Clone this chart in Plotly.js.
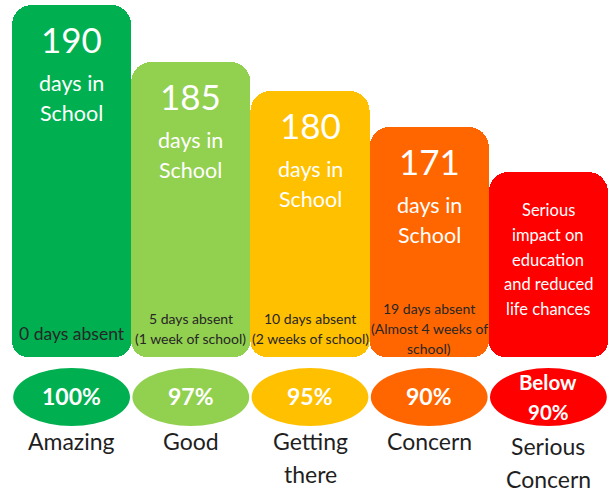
<!DOCTYPE html>
<html><head><meta charset="utf-8">
<script src="https://cdn.plot.ly/plotly-3.0.1.min.js"></script>
<style>html,body{margin:0;padding:0;background:#fff}#chart{width:614px;height:495px}</style>
</head><body><div id="chart"></div>
<script>
// ---- data ----
const categories = ["Amazing", "Good", "Getting there", "Concern", "Serious Concern"];
const daysInSchool = ["190", "185", "180", "171", null];
const barHeights = [352, 295, 266, 230, 185]; // visual bar heights (infographic units)
const absenceNotes = [
  ["0 days absent"],
  ["5 days absent", "(1 week of school)"],
  ["10 days absent", "(2 weeks of school)"],
  ["19 days absent", "(Almost 4 weeks of", "school)"],
  []
];
const impactText = ["Serious", "impact on", "education", "and reduced", "life chances"];
const attendance = [["100%"], ["97%"], ["95%"], ["90%"], ["Below", "90%"]];
const labelLines = [["Amazing"], ["Good"], ["Getting", "there"], ["Concern"], ["Serious", "Concern"]];
const colors = ["#00b050", "#92d050", "#ffc000", "#ff6600", "#ff0000"];

// ---- build ----
const FONT = "Lato, 'Open Sans', sans-serif";
const idx = categories.map((_, i) => i);

const topPart = {
  type: "bar", x: idx, y: barHeights, base: 0, width: 1,
  marker: {color: colors, cornerradius: 20, line: {width: 0}},
  hoverinfo: "skip", text: categories, textposition: "none"
};
const bottomPart = {
  type: "bar", x: idx, y: idx.map(() => -120), base: 120, width: 1,
  marker: {color: colors, cornerradius: 16, line: {width: 0}},
  hoverinfo: "skip", textposition: "none"
};

const annotations = [];
function ann(x, y, text, size, color, yshift, bold) {
  annotations.push({
    x: x, y: y, xref: "x", yref: "y", text: bold ? "<b>" + text + "</b>" : text,
    showarrow: false, xanchor: "center", yanchor: "middle", yshift: yshift,
    font: {family: FONT, size: size, color: color}
  });
}

const absenceStart = [24, 39, 39, 49, 0];
idx.forEach(i => {
  const h = barHeights[i];
  if (daysInSchool[i] !== null) {
    ann(i, h, daysInSchool[i], 35, "#ffffff", -34);
    ann(i, h, "days in", 21.5, "#ffffff", -78);
    ann(i, h, "School", 21.5, "#ffffff", -108);
  } else {
    impactText.forEach((t, j) => ann(i, h, t, 16.5, "#ffffff", -38 - j * 24.8));
  }
  absenceNotes[i].forEach((t, j) => {
    ann(i, 0, t, absenceNotes[i].length === 1 ? 17.5 : 14, "#262626", absenceStart[i] - j * 20);
  });
  const a = attendance[i];
  if (a.length === 1) ann(i, 0, a[0], 23, "#ffffff", -39, true);
  else a.forEach((t, j) => ann(i, 0, t, 20.5, "#ffffff", -25 - j * 30, true));
  labelLines[i].forEach((t, j) => ann(i, 0, t, 23, "#1f1f1f", (labelLines[i].length > 1 && i === 4 ? -89 : -84) - j * 33));
});

const shapes = idx.map(i => ({
  type: "circle", xref: "x", yref: "y",
  x0: i - 0.49, x1: i + 0.49, y0: -11, y1: -69,
  fillcolor: colors[i], line: {width: 0}, layer: "below"
}));

const layout = {
  width: 614, height: 495,
  margin: {l: 12, r: 6, t: 0, b: 0, pad: 0},
  paper_bgcolor: "#ffffff", plot_bgcolor: "#ffffff",
  barmode: "overlay", bargap: 0, showlegend: false,
  xaxis: {range: [-0.5, 4.5], visible: false, fixedrange: true},
  yaxis: {range: [-138, 357], visible: false, fixedrange: true},
  annotations: annotations, shapes: shapes,
  font: {family: FONT}
};

Plotly.newPlot("chart", [topPart, bottomPart], layout, {displayModeBar: false, staticPlot: true});
</script>
</body></html>
